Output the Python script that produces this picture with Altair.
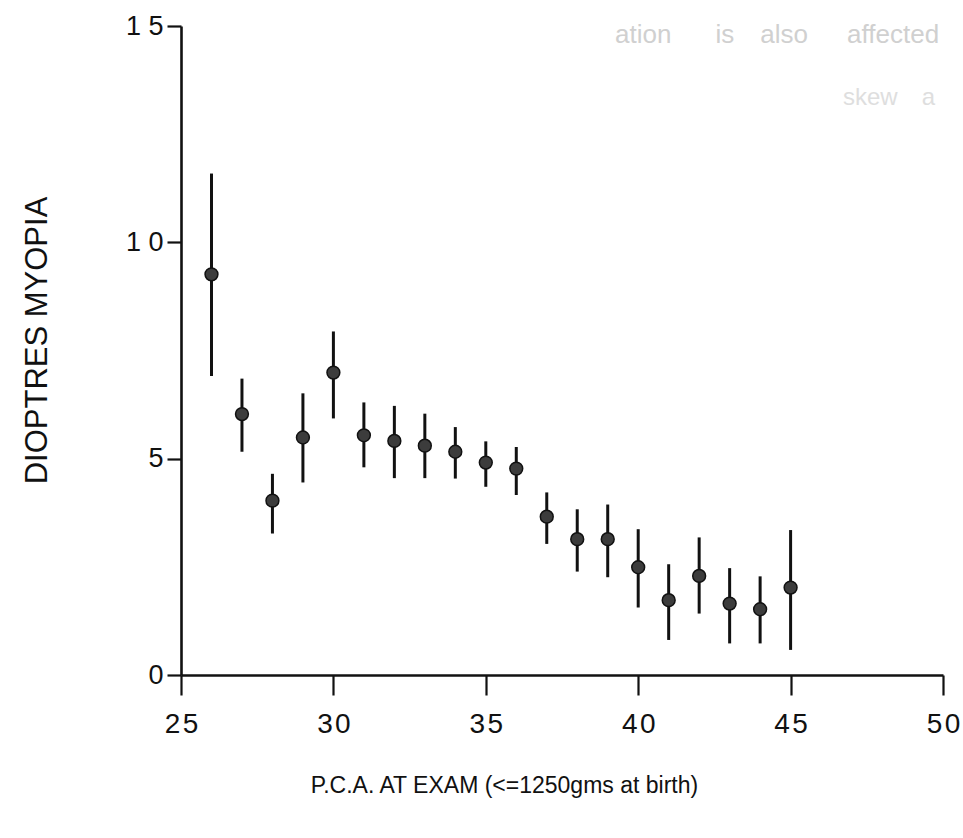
import altair as alt
import pandas as pd

# P.C.A. at exam (weeks)
pca = [26, 27, 28, 29, 30, 31, 32, 33, 34, 35, 36, 37, 38, 39, 40, 41, 42, 43, 44, 45]
# mean dioptres myopia
mean = [9.26, 6.03, 4.03, 5.49, 6.99, 5.54, 5.41, 5.30, 5.16, 4.91, 4.77, 3.66, 3.14, 3.14,
        2.49, 1.73, 2.29, 1.65, 1.52, 2.02]
# error bar upper / lower ends
upper = [11.59, 6.85, 4.65, 6.51, 7.94, 6.30, 6.22, 6.04, 5.73, 5.40, 5.27, 4.22, 3.83, 3.94,
         3.37, 2.56, 3.18, 2.47, 2.28, 3.35]
lower = [6.91, 5.16, 3.27, 4.45, 5.93, 4.80, 4.55, 4.55, 4.54, 4.35, 4.16, 3.03, 2.39, 2.26,
         1.56, 0.81, 1.42, 0.73, 0.73, 0.58]

x_ticks = [25, 30, 35, 40, 45, 50]
y_ticks = [0, 5, 10, 15]

x_title = "P.C.A. AT EXAM (<=1250gms at birth)"
y_title = "DIOPTRES MYOPIA"

# faint show-through text from the scanned page
ghost_line1 = ["ation\u2003\u2002\u2009is\u2003also\u2003\u2002affected"]
ghost_line2 = ["skew\u2003a"]

df = pd.DataFrame({"pca": pca, "mean": mean, "upper": upper, "lower": lower})

SANS = "Liberation Sans, Arial, Helvetica"

xscale = alt.Scale(domain=[25, 50], nice=False, zero=False)
yscale = alt.Scale(domain=[0, 15], nice=False)

x_axis = alt.Axis(
    values=x_ticks, title=x_title, grid=False, labelFlush=False, labelOverlap=False,
    tickSize=20, tickWidth=2.2, tickColor="#111", domainColor="#111", domainWidth=2.6,
    labelFont=SANS, labelFontSize=28, labelColor="#111", labelPadding=15,
    labelExpr="slice(datum.label,0,1) + '\u200a' + slice(datum.label,1)",
    titleFont=SANS, titleFontSize=23, titleFontWeight="normal", titleColor="#111",
    titleX=323, titleY=110, titleAnchor="middle", titleBaseline="middle", titleAlign="center",
)
y_axis = alt.Axis(
    values=y_ticks, title=y_title, grid=False, labelFlush=False, labelOverlap=False,
    tickSize=14, tickWidth=2.2, tickColor="#111", domainColor="#111", domainWidth=2.6,
    labelFont=SANS, labelFontSize=27, labelColor="#111", labelPadding=4,
    labelExpr="length(datum.label) > 1 ? slice(datum.label,0,1) + ' ' + slice(datum.label,1) : datum.label",
    titleFont=SANS, titleFontSize=31, titleFontWeight="normal", titleColor="#111",
    titleX=-144, titleY=314, titleAngle=-90, titleBaseline="middle", titleAlign="center",
)

base = alt.Chart(df)

bars = base.mark_rule(color="#111", strokeWidth=3).encode(
    x=alt.X("pca:Q", scale=xscale, axis=x_axis),
    y=alt.Y("lower:Q", scale=yscale, axis=y_axis),
    y2="upper:Q",
)

points = base.mark_point(
    shape="circle", filled=True, size=165, fill="#3c3c3c", stroke="#111", strokeWidth=1.5, opacity=1
).encode(
    x=alt.X("pca:Q", scale=xscale),
    y=alt.Y("mean:Q", scale=yscale),
)

ghost1 = alt.Chart(pd.DataFrame({"txt": ghost_line1})).mark_text(
    font=SANS, fontSize=26, color="#d0d0d0", align="left", baseline="middle"
).encode(text="txt:N", x=alt.value(434), y=alt.value(9))

ghost2 = alt.Chart(pd.DataFrame({"txt": ghost_line2})).mark_text(
    font=SANS, fontSize=24, color="#dedede", align="left", baseline="middle"
).encode(text="txt:N", x=alt.value(662), y=alt.value(72))

chart = alt.layer(bars, points, ghost1, ghost2).properties(
    width=762, height=649,
    background="white",
    autosize=alt.AutoSizeParams(type="none"),
    padding={"left": 181, "top": 26, "right": 20, "bottom": 163},
).configure_view(stroke=None, strokeWidth=0)

chart.save("out.html", embed_options={"renderer": "svg", "actions": False})
